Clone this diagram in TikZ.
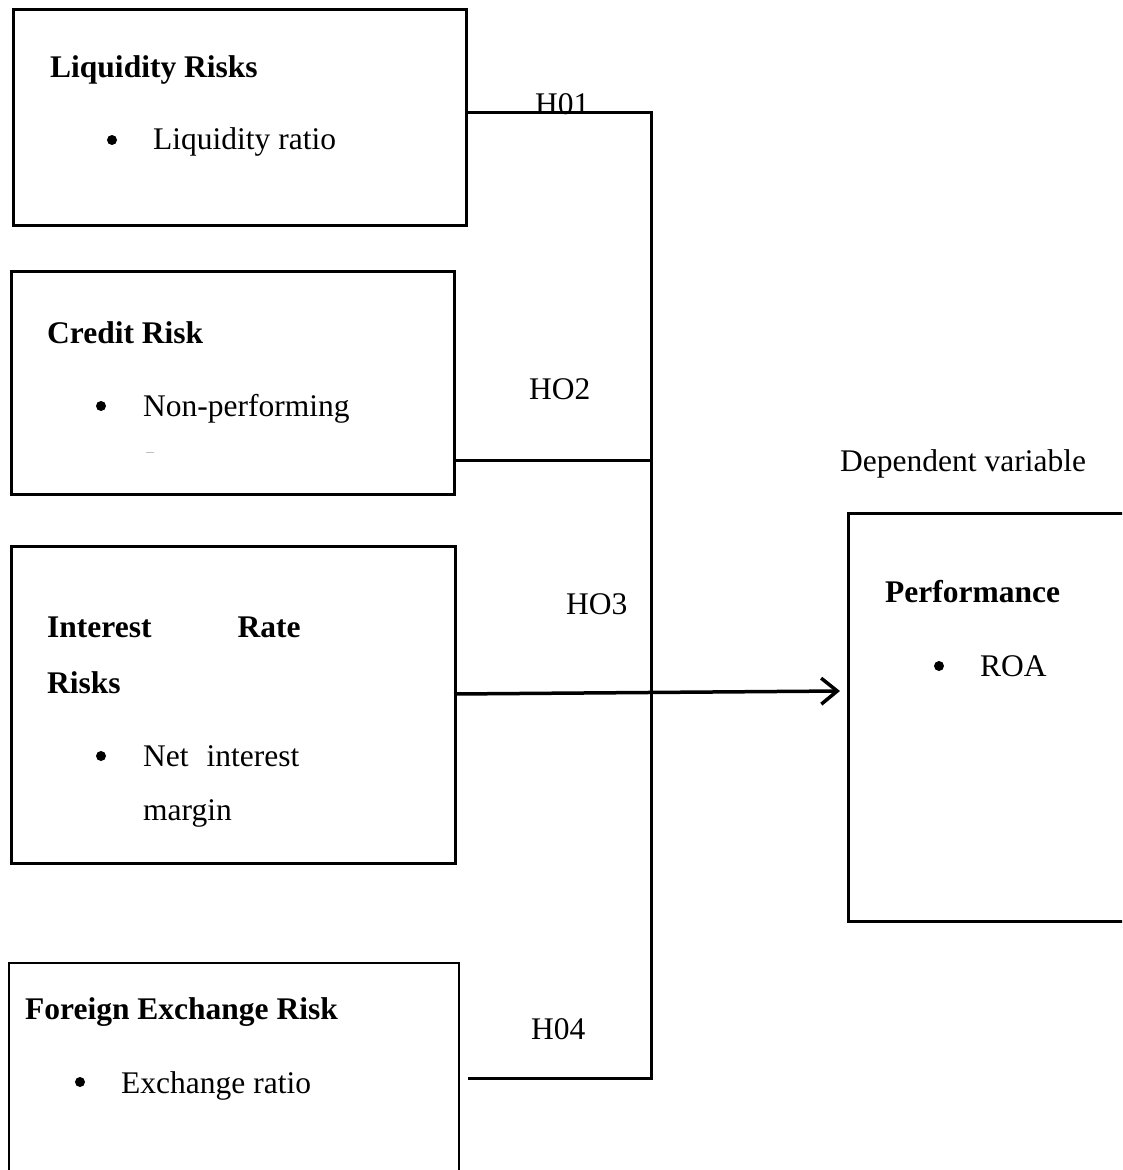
\documentclass[tikz,border=0pt]{standalone}
\usepackage{fontspec}
\setmainfont{Liberation Serif}
\usetikzlibrary{positioning,arrows.meta}

\newcommand{\figsize}{\fontsize{31.5}{38}\selectfont}

\tikzset{
	riskbox/.style={draw, line width=3pt, inner sep=0pt, anchor=north west},
	link/.style={line width=3pt},
	txt/.style={inner sep=0pt, anchor=base west},
	head/.style={txt, font=\figsize\bfseries},
	dot/.style={circle, fill, inner sep=0pt, minimum size=10pt},
}

\begin{document}
\begin{tikzpicture}[x=1pt, y=-1pt, font=\figsize]
	\useasboundingbox (0,0) rectangle (1122,1170);
	\fill[white] (0,0) rectangle (1122,1170);
	\clip (0,0) rectangle (1122,1170);
	%% boxes
	\node[riskbox, minimum width=453pt, minimum height=216pt] (liq) at (12,8) {};
	\node[riskbox, minimum width=443pt, minimum height=223pt] (cred) at (10,270) {};
	\node[riskbox, minimum width=444pt, minimum height=317pt] (int) at (10,545) {};
	\node[riskbox, line width=2pt, minimum width=450pt, minimum height=240pt] (fx) at (8,962) {};
	\node[riskbox, minimum width=300pt, minimum height=408pt] (perf) at (847,512) {};
	%% liquidity
	\node[head] (liqT) at (50,77) {Liquidity Risks};
	\node[dot] (liqB) at (112,140) {};
	\node[txt] (liqI) at (153,149) {Liquidity ratio};
	%% credit
	\node[head] (credT) at (47,343) {Credit Risk};
	\node[dot] (credB) at (101,406) {};
	\node[txt] (credI) at (143,416) {Non-performing};
	\draw[gray!50, line width=1pt] (146,452) -- (154,452);
	%% interest rate
	\node[head] (intT) at (47,637) {Interest\hspace{86pt}Rate};
	\node[head] (intT2) at (47,693) {Risks};
	\node[dot] (intB) at (101,756) {};
	\node[txt] (intI) at (143,766) {Net\hspace{18pt}interest};
	\node[txt] (intI2) at (143,820) {margin};
	%% foreign exchange
	\node[head] (fxT) at (25,1019) {Foreign Exchange Risk};
	\node[dot] (fxB) at (80,1082) {};
	\node[txt] (fxI) at (121,1093) {Exchange ratio};
	%% performance
	\node[txt] (dep) at (840,471) {Dependent variable};
	\node[head] (perfT) at (885,602) {Performance};
	\node[dot] (perfB) at (939,666) {};
	\node[txt] (perfI) at (980,676) {ROA};
	%% hypotheses
	\node[txt] (h1) at (535,114) {H01};
	\node[txt] (h2) at (529,399) {HO2};
	\node[txt] (h3) at (566,614) {HO3};
	\node[txt] (h4) at (531,1039) {H04};
	% connectors
	\coordinate (j1) at (651,112);
	\coordinate (j2) at (651,460);
	\coordinate (j4) at (651,1078);
	\coordinate (a0) at (454,694);
	\coordinate (a1) at (840,691);
	\draw[link] (liq.east |- j1) -- (j1) -- (j4) -- ([xshift=8pt]fx.east |- j4);
	\draw[link] (cred.east |- j2) -- (j2);
	\draw[link, line width=3.5pt, -{Straight Barb[length=16pt,width=26pt]}] (a0) -- (a1);
\end{tikzpicture}
\end{document}
